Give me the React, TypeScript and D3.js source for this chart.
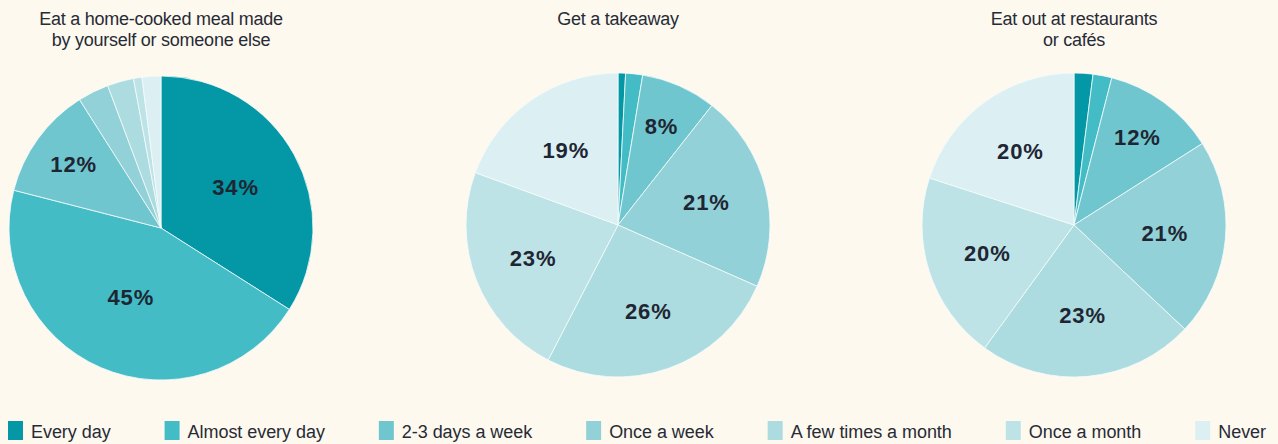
import React, { useEffect, useRef } from "react";
import * as d3 from "d3";

const categories = [
  "Every day",
  "Almost every day",
  "2-3 days a week",
  "Once a week",
  "A few times a month",
  "Once a month",
  "Never",
];

const colors = ["#0497a5", "#43bcc6", "#70c6cf", "#92d1d8", "#acdbe0", "#bee3e6", "#dcf0f3"];

const titles = [
  ["Eat a home-cooked meal made", "by yourself or someone else"],
  ["Get a takeaway"],
  ["Eat out at restaurants", "or cafés"],
];

const homeCooked = [34, 45, 12, 3.3, 2.8, 0.9, 2];
const takeaway = [0.8, 1.8, 8, 21, 26, 23, 19.4];
const eatOut = [2, 2, 12, 21, 23, 20, 20];

const labelsHome = ["34%", "45%", "12%", "", "", "", ""];
const labelsTakeaway = ["", "", "8%", "21%", "26%", "23%", "19%"];
const labelsEatOut = ["", "", "12%", "21%", "23%", "20%", "20%"];

const series = [homeCooked, takeaway, eatOut];
const seriesLabels = [labelsHome, labelsTakeaway, labelsEatOut];

const W = 1278;
const H = 444;
const BG = "#fef9ef";
const TEXT = "#262b36";

export default function App() {
  const ref = useRef<SVGSVGElement | null>(null);

  useEffect(() => {
    document.body.style.margin = "0";
    const svg = d3.select(ref.current);
    svg.selectAll("*").remove();

    svg.append("rect").attr("width", W).attr("height", H).attr("fill", BG);

    const centersX = [161, 618, 1074];
    const cy = [228, 225, 225];
    const R = 152;

    const pie = d3.pie<number>().sort(null).value((d) => d);
    const arc = d3.arc<d3.PieArcDatum<number>>().innerRadius(0).outerRadius(R);

    series.forEach((vals, i) => {
      const g = svg.append("g").attr("transform", `translate(${centersX[i]},${cy[i]})`);
      const total = d3.sum(vals);
      const arcs = pie(vals);
      g.selectAll("path")
        .data(arcs)
        .join("path")
        .attr("d", arc as any)
        .attr("fill", (_, j) => colors[j])
        .attr("stroke", "#f4fbfb")
        .attr("stroke-width", 0.8);

      g.selectAll("text.lbl")
        .data(arcs)
        .join("text")
        .attr("class", "lbl")
        .each(function (d, j) {
          const frac = d.value / total;
          let f = 0.6;
          if (frac < 0.15) f = 0.71;
          else if (frac > 0.3) f = 0.56 - (frac - 0.34) * 0.55;
          const mid = (d.startAngle + d.endAngle) / 2;
          const r = R * f;
          d3.select(this)
            .attr("x", Math.sin(mid) * r)
            .attr("y", -Math.cos(mid) * r)
            .text(seriesLabels[i][j]);
        })
        .attr("text-anchor", "middle")
        .attr("dominant-baseline", "central")
        .attr("font-family", "'Liberation Sans', Arial, sans-serif")
        .attr("font-weight", 700)
        .attr("font-size", 22)
        .attr("letter-spacing", 0.9)
        .attr("fill", "#1f2633");

      const t = svg
        .append("text")
        .attr("text-anchor", "middle")
        .attr("font-family", "'Liberation Sans', Arial, sans-serif")
        .attr("font-size", 18)
        .attr("letter-spacing", -0.25)
        .attr("fill", TEXT);
      titles[i].forEach((line, k) => {
        t.append("tspan").attr("x", centersX[i]).attr("y", 25 + k * 21).text(line);
      });
    });

    // legend
    const lg = svg.append("g");
    const items = categories.map((c, j) => {
      const it = lg.append("g");
      it.append("rect").attr("x", 0).attr("y", 421).attr("width", 15).attr("height", 19).attr("fill", colors[j]);
      const tx = it
        .append("text")
        .attr("x", 23)
        .attr("y", 438)
        .attr("font-family", "'Liberation Sans', Arial, sans-serif")
        .attr("font-size", 18)
        .attr("letter-spacing", -0.05)
        .attr("fill", TEXT)
        .text(c);
      const w = 23 + (tx.node() as SVGTextElement).getComputedTextLength();
      return { it, w };
    });
    const left = 8;
    const right = 1266;
    const totalW = d3.sum(items, (d) => d.w);
    const gap = (right - left - totalW) / (items.length - 1);
    let x = left;
    items.forEach(({ it, w }) => {
      it.attr("transform", `translate(${x},0)`);
      x += w + gap;
    });
  }, []);

  return (
    <div style={{ position: "absolute", left: 0, top: 0 }}>
      <svg ref={ref} width={W} height={H} style={{ display: "block" }} />
    </div>
  );
}
